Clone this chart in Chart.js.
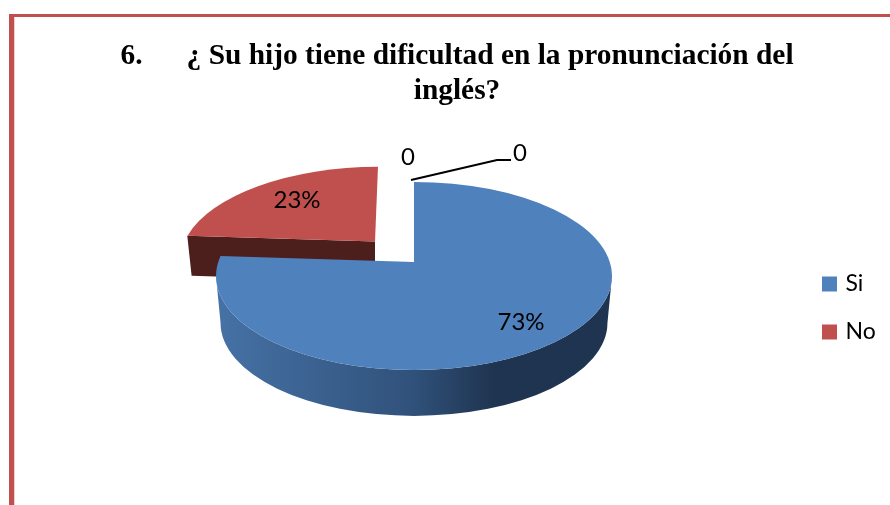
<!DOCTYPE html>
<html>
<head>
<meta charset="utf-8">
<script src="https://cdn.jsdelivr.net/npm/chart.js@4"></script>
<style>html,body{margin:0;padding:0;background:#fff}canvas{display:block}</style>
</head>
<body>
<canvas id="c" width="890" height="505"></canvas>
<script>
const categories = ['Si', 'No', '', ''];
const seriesValues = [73, 23, 0, 0];
const valueLabels = ['73%', '23%', '0', '0'];
const titleLines = ['6.\u00A0\u00A0\u00A0\u00A0\u00A0\u00A0¿ Su hijo tiene dificultad en la pronunciación del', 'inglés?'];
const sliceColors = ['#4f81bd', '#c0504d', '#9bbb59', '#8064a2'];

const tilt = 0.475;
// per-slice 3D look, indexed like the categories
const look = [
  {dx: 0, dy: 0, scale: 1, apex: 0.149, depth: 47, cut: '#1f3450', lean: 0},
  {dx: -39, dy: -17, scale: 0.98, apex: 0.19, depth: 40, cut: '#4c1e1c', lean: -0.04}
];
const labelSpots = [{x: 107, y: 46}, {x: -117, y: -76}, {x: -6, y: -119}, {x: 106, y: -123}];

function param(angle, d) {
  // where a ray from the off-centre apex meets the rim (unit circle)
  const c = Math.cos(angle), s = Math.sin(angle);
  const b = -d * s, q = d * d - 1;
  const k = -b + Math.sqrt(b * b - q);
  return Math.atan2(-d + k * s, k * c);
}

const pie3d = {
  id: 'pie3d',
  afterLayout(chart) {
    const lg = chart.legend;
    const sx = 825 - 25 - lg.left;
    lg.left += sx; lg.right += sx;
    const sy = 308 - (lg.top + lg.bottom) / 2;
    lg.top += sy; lg.bottom += sy;
  },
  beforeDraw(chart) {
    const ctx = chart.ctx;
    ctx.save();
    ctx.fillStyle = '#c0504d';
    ctx.fillRect(9, 14, 881, 3);
    ctx.fillRect(9, 14, 5, 491);
    ctx.fillStyle = '#f2cfce';
    ctx.fillRect(14, 17, 1, 488);
    ctx.restore();
  },
  beforeDatasetDraw(chart) {
    const ctx = chart.ctx;
    const arcs = chart.getDatasetMeta(0).data;
    const off = {x: 414 - arcs[0].x, y: 276 - arcs[0].y};
    const order = [1, 0];
    ctx.save();
    order.forEach(i => {
      const el = arcs[i], lk = look[i];
      if (el.endAngle - el.startAngle <= 0) return;
      const cx = el.x + off.x + lk.dx, cy = el.y + off.y + lk.dy;
      const rx = el.outerRadius * lk.scale, ry = rx * tilt;
      const ax = cx, ay = cy - lk.apex * ry;
      let t0 = param(el.startAngle, lk.apex), t1 = param(el.endAngle, lk.apex);
      while (t1 <= t0) t1 += Math.PI * 2;
      const shrink = 0.977;
      const low = (px, py) => [cx + (px - cx) * shrink, py + lk.depth];
      // straight cut wall facing the viewer
      const cutWall = t => {
        const px = cx + rx * Math.cos(t), py = cy + ry * Math.sin(t);
        ctx.beginPath();
        ctx.moveTo(ax, ay);
        ctx.lineTo(px, py);
        ctx.lineTo(...low(px, py));
        ctx.lineTo(...low(ax, ay));
        ctx.closePath();
        ctx.fillStyle = lk.cut;
        ctx.fill();
      };
      if (Math.cos(el.startAngle) < -0.01) cutWall(t0);
      if (Math.cos(el.endAngle) > 0.01) cutWall(t1);
      // curved outer wall
      let w0 = t0, w1 = t1;
      while (w1 > Math.PI * 2) { w0 -= Math.PI * 2; w1 -= Math.PI * 2; }
      const a0 = Math.max(w0, 0), a1 = Math.min(w1, Math.PI);
      if (a1 > a0) {
        const g = ctx.createLinearGradient(cx - rx, 0, cx + rx, 0);
        g.addColorStop(0, '#4672a6');
        g.addColorStop(0.5, '#30517a');
        g.addColorStop(0.7, '#1f3450');
        g.addColorStop(1, '#1f3450');
        ctx.beginPath();
        ctx.ellipse(cx, cy, rx, ry, 0, a0, a1);
        ctx.ellipse(cx, cy + lk.depth, rx * shrink, ry * shrink + 1, 0, a1, a0, true);
        ctx.closePath();
        ctx.fillStyle = g;
        ctx.fill();
      }
      // top face
      ctx.save();
      ctx.transform(1, 0, lk.lean, 1, -lk.lean * ay, 0);
      ctx.beginPath();
      ctx.moveTo(ax, ay);
      ctx.ellipse(cx, cy, rx, ry, 0, t0, t1);
      ctx.closePath();
      ctx.fillStyle = el.options.backgroundColor;
      ctx.fill();
      ctx.restore();
    });
    // labels and leader line
    const c0 = {x: arcs[0].x + off.x, y: arcs[0].y + off.y};
    ctx.strokeStyle = '#000';
    ctx.lineWidth = 2;
    ctx.beginPath();
    ctx.moveTo(c0.x - 3, c0.y - 96);
    ctx.lineTo(c0.x + 83, c0.y - 116);
    ctx.lineTo(c0.x + 97, c0.y - 116);
    ctx.stroke();
    ctx.fillStyle = '#000';
    ctx.font = '24px Lato';
    ctx.textAlign = 'center';
    ctx.textBaseline = 'middle';
    valueLabels.forEach((t, i) => {
      ctx.fillText(t, c0.x + labelSpots[i].x, c0.y + labelSpots[i].y);
    });
    ctx.restore();
    return false;
  }
};

new Chart(document.getElementById('c'), {
  type: 'pie',
  data: {
    labels: categories,
    datasets: [{data: seriesValues, backgroundColor: sliceColors, borderColor: sliceColors, borderWidth: 6, radius: 198}]
  },
  plugins: [pie3d],
  options: {
    responsive: false,
    animation: false,
    events: [],
    layout: {padding: {left: 24}},
    plugins: {
      tooltip: {enabled: false},
      title: {
        display: true,
        text: titleLines,
        color: '#000',
        font: {family: '"Liberation Serif"', size: 29.4, weight: 'bold', lineHeight: 1.19},
        padding: {top: 39, bottom: 0}
      },
      legend: {
        position: 'right',
        labels: {
          boxWidth: 9, boxHeight: 9, padding: 25,
          color: '#000',
          font: {family: 'Lato', size: 23},
          filter: item => item.text !== ''
        }
      }
    }
  }
});
</script>
</body>
</html>
